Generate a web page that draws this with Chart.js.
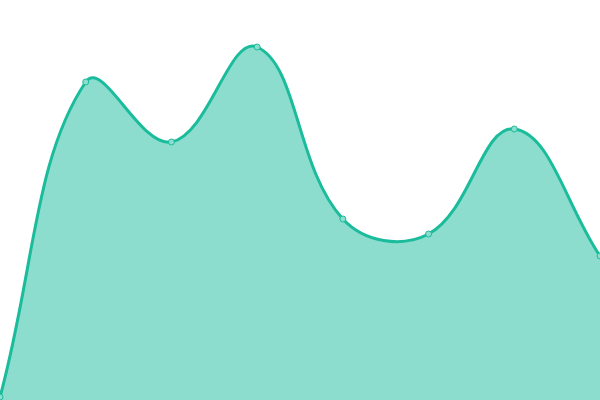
<!DOCTYPE html>
<html>
<head>
<meta charset="utf-8">
<script src="https://cdn.jsdelivr.net/npm/chart.js@4"></script>
<style>
  html, body { margin: 0; padding: 0; background: #fff; }
  #wrap { width: 600px; height: 400px; }
</style>
</head>
<body>
<div id="wrap"><canvas id="areaChart"></canvas></div>
<script>
const categories = ['1', '2', '3', '4', '5', '6', '7', '8'];
const seriesValues = [3, 318, 258, 353, 181, 166, 271, 144];

const ctx = document.getElementById('areaChart').getContext('2d');

const areaChart = new Chart(ctx, {
    type: 'line',
    data: {
        labels: categories,
        datasets: [{
            data: seriesValues,
            fill: 'origin',
            backgroundColor: 'rgba(26, 188, 156, 0.5)',
            borderColor: 'rgb(26, 188, 156)',
            borderWidth: 3,
            tension: 0.4,
            pointRadius: 3,
            pointBorderWidth: 1,
            pointBackgroundColor: 'rgb(140, 221, 205)',
            pointBorderColor: 'rgb(26, 188, 156)'
        }]
    },
    options: {
        responsive: true,
        maintainAspectRatio: false,
        animation: false,
        // no inset, points sit on the canvas edges like the reference
        layout: { autoPadding: false, padding: 0 },
        plugins: {
            legend: { display: false },
            tooltip: { enabled: false }
        },
        scales: {
            x: { display: false },
            y: { display: false, min: 0, max: 400 }
        }
    }
});
</script>
</body>
</html>
